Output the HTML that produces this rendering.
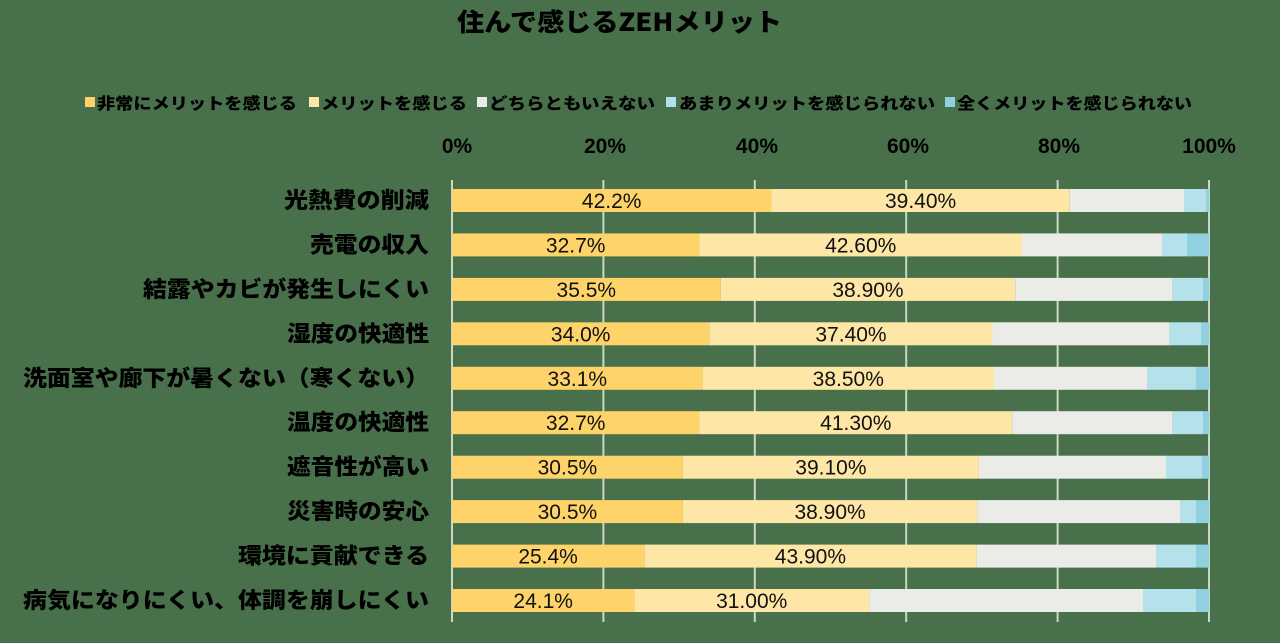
<!DOCTYPE html>
<html><head><meta charset="utf-8"><style>
html,body{margin:0;padding:0;background:#48704b;}
svg{display:block}
text{font-family:"Liberation Sans","Noto Sans CJK JP",sans-serif;}
.b{font-weight:bold;fill:#000;}
.d{font-size:21px;fill:#111;font-family:"Noto Sans CJK JP","Liberation Sans",sans-serif;}
</style></head><body>
<svg width="1280" height="643" viewBox="0 0 1280 643" xmlns="http://www.w3.org/2000/svg">
<rect width="1280" height="643" fill="#48704b"/>
<text x="457" y="31" textLength="325" lengthAdjust="spacingAndGlyphs" class="b" style="font-size:25px;font-family:'Noto Sans CJK JP',sans-serif;font-weight:900">住んで感じるZEHメリット</text>
<g style="font-size:16px;font-family:'Noto Sans CJK JP',sans-serif;font-weight:900" fill="#000">
<rect x="85" y="97" width="10" height="10" fill="#fdd36a"/><text x="97" y="109" textLength="200" lengthAdjust="spacingAndGlyphs">非常にメリットを感じる</text>
<rect x="309" y="97" width="10" height="10" fill="#fee7a6"/><text x="321" y="109" textLength="146" lengthAdjust="spacingAndGlyphs">メリットを感じる</text>
<rect x="477" y="97" width="10" height="10" fill="#ebebe8"/><text x="489" y="109" textLength="166" lengthAdjust="spacingAndGlyphs">どちらともいえない</text>
<rect x="666" y="97" width="10" height="10" fill="#b5e2ea"/><text x="679" y="109" textLength="256" lengthAdjust="spacingAndGlyphs">あまりメリットを感じられない</text>
<rect x="945" y="97" width="10" height="10" fill="#90d0e0"/><text x="957" y="109" textLength="235" lengthAdjust="spacingAndGlyphs">全くメリットを感じられない</text>
</g>
<g class="b" style="font-size:21px;font-family:'Noto Sans CJK JP',sans-serif;font-weight:900" text-anchor="middle">
<text x="457" y="153">0%</text><text x="605" y="153">20%</text><text x="757" y="153">40%</text><text x="908" y="153">60%</text><text x="1059" y="153">80%</text><text x="1209" y="153">100%</text>
</g>
<g stroke="#c9d8c4" stroke-width="2">
<line x1="452" y1="180" x2="452" y2="622"/><line x1="603.4" y1="180" x2="603.4" y2="622"/><line x1="754.8" y1="180" x2="754.8" y2="622"/><line x1="906.2" y1="180" x2="906.2" y2="622"/><line x1="1057.6" y1="180" x2="1057.6" y2="622"/><line x1="1209" y1="180" x2="1209" y2="622"/>
</g>
<g>
<rect x="452" y="189" width="319.5" height="23" fill="#fdd36a"/><rect x="771.5" y="189" width="298.2" height="23" fill="#fee7a6"/><rect x="1069.7" y="189" width="114.3" height="23" fill="#ebebe8"/><rect x="1184" y="189" width="22" height="23" fill="#b5e2ea"/><rect x="1206" y="189" width="3" height="23" fill="#90d0e0"/>
<rect x="452" y="233.4" width="247.5" height="23" fill="#fdd36a"/><rect x="699.5" y="233.4" width="322.5" height="23" fill="#fee7a6"/><rect x="1022" y="233.4" width="140" height="23" fill="#ebebe8"/><rect x="1162" y="233.4" width="25" height="23" fill="#b5e2ea"/><rect x="1187" y="233.4" width="22" height="23" fill="#90d0e0"/>
<rect x="452" y="277.9" width="268.7" height="23" fill="#fdd36a"/><rect x="720.7" y="277.9" width="294.5" height="23" fill="#fee7a6"/><rect x="1015.2" y="277.9" width="157.5" height="23" fill="#ebebe8"/><rect x="1172.7" y="277.9" width="30.3" height="23" fill="#b5e2ea"/><rect x="1203" y="277.9" width="6" height="23" fill="#90d0e0"/>
<rect x="452" y="322.3" width="257.4" height="23" fill="#fdd36a"/><rect x="709.4" y="322.3" width="283.1" height="23" fill="#fee7a6"/><rect x="992.5" y="322.3" width="177.1" height="23" fill="#ebebe8"/><rect x="1169.6" y="322.3" width="31.4" height="23" fill="#b5e2ea"/><rect x="1201" y="322.3" width="8" height="23" fill="#90d0e0"/>
<rect x="452" y="366.8" width="250.6" height="23" fill="#fdd36a"/><rect x="702.6" y="366.8" width="291.4" height="23" fill="#fee7a6"/><rect x="994" y="366.8" width="153" height="23" fill="#ebebe8"/><rect x="1147" y="366.8" width="49" height="23" fill="#b5e2ea"/><rect x="1196" y="366.8" width="13" height="23" fill="#90d0e0"/>
<rect x="452" y="411.2" width="247.5" height="23" fill="#fdd36a"/><rect x="699.5" y="411.2" width="312.7" height="23" fill="#fee7a6"/><rect x="1012.2" y="411.2" width="160.5" height="23" fill="#ebebe8"/><rect x="1172.7" y="411.2" width="30.3" height="23" fill="#b5e2ea"/><rect x="1203" y="411.2" width="6" height="23" fill="#90d0e0"/>
<rect x="452" y="455.7" width="230.9" height="23" fill="#fdd36a"/><rect x="682.9" y="455.7" width="296" height="23" fill="#fee7a6"/><rect x="978.9" y="455.7" width="187.1" height="23" fill="#ebebe8"/><rect x="1166" y="455.7" width="36" height="23" fill="#b5e2ea"/><rect x="1202" y="455.7" width="7" height="23" fill="#90d0e0"/>
<rect x="452" y="500.1" width="230.9" height="23" fill="#fdd36a"/><rect x="682.9" y="500.1" width="294.5" height="23" fill="#fee7a6"/><rect x="977.4" y="500.1" width="202.6" height="23" fill="#ebebe8"/><rect x="1180" y="500.1" width="16" height="23" fill="#b5e2ea"/><rect x="1196" y="500.1" width="13" height="23" fill="#90d0e0"/>
<rect x="452" y="544.6" width="192.3" height="23" fill="#fdd36a"/><rect x="644.3" y="544.6" width="332.3" height="23" fill="#fee7a6"/><rect x="976.6" y="544.6" width="179.4" height="23" fill="#ebebe8"/><rect x="1156" y="544.6" width="40" height="23" fill="#b5e2ea"/><rect x="1196" y="544.6" width="13" height="23" fill="#90d0e0"/>
<rect x="452" y="589" width="182.4" height="23" fill="#fdd36a"/><rect x="634.4" y="589" width="234.7" height="23" fill="#fee7a6"/><rect x="869.1" y="589" width="273.9" height="23" fill="#ebebe8"/><rect x="1143" y="589" width="53" height="23" fill="#b5e2ea"/><rect x="1196" y="589" width="13" height="23" fill="#90d0e0"/>
</g>
<g class="d" text-anchor="middle">
<text x="611.7" y="208">42.2%</text><text x="920.6" y="208">39.40%</text>
<text x="575.7" y="252.4">32.7%</text><text x="860.7" y="252.4">42.60%</text>
<text x="586.3" y="296.9">35.5%</text><text x="868" y="296.9">38.90%</text>
<text x="580.7" y="341.3">34.0%</text><text x="851" y="341.3">37.40%</text>
<text x="577.3" y="385.8">33.1%</text><text x="848.3" y="385.8">38.50%</text>
<text x="575.7" y="430.2">32.7%</text><text x="855.8" y="430.2">41.30%</text>
<text x="567.4" y="474.7">30.5%</text><text x="830.9" y="474.7">39.10%</text>
<text x="567.4" y="519.1">30.5%</text><text x="830.1" y="519.1">38.90%</text>
<text x="548.1" y="563.6">25.4%</text><text x="810.4" y="563.6">43.90%</text>
<text x="543.2" y="608">24.1%</text><text x="751.7" y="608">31.00%</text>
</g>
<g class="b" text-anchor="end" style="font-size:22px;font-family:'Noto Sans CJK JP',sans-serif;font-weight:900">
<text x="429" y="208" textLength="145" lengthAdjust="spacingAndGlyphs">光熱費の削減</text>
<text x="429" y="252.4" textLength="119" lengthAdjust="spacingAndGlyphs">売電の収入</text>
<text x="429" y="296.9" textLength="286" lengthAdjust="spacingAndGlyphs">結露やカビが発生しにくい</text>
<text x="429" y="341.3" textLength="142" lengthAdjust="spacingAndGlyphs">湿度の快適性</text>
<text x="429" y="385.8" textLength="406" lengthAdjust="spacingAndGlyphs">洗面室や廊下が暑くない（寒くない）</text>
<text x="429" y="430.2" textLength="142" lengthAdjust="spacingAndGlyphs">温度の快適性</text>
<text x="429" y="474.7" textLength="142" lengthAdjust="spacingAndGlyphs">遮音性が高い</text>
<text x="429" y="519.1" textLength="142" lengthAdjust="spacingAndGlyphs">災害時の安心</text>
<text x="429" y="563.6" textLength="191" lengthAdjust="spacingAndGlyphs">環境に貢献できる</text>
<text x="429" y="608" textLength="406" lengthAdjust="spacingAndGlyphs">病気になりにくい、体調を崩しにくい</text>
</g>
</svg>
</body></html>
